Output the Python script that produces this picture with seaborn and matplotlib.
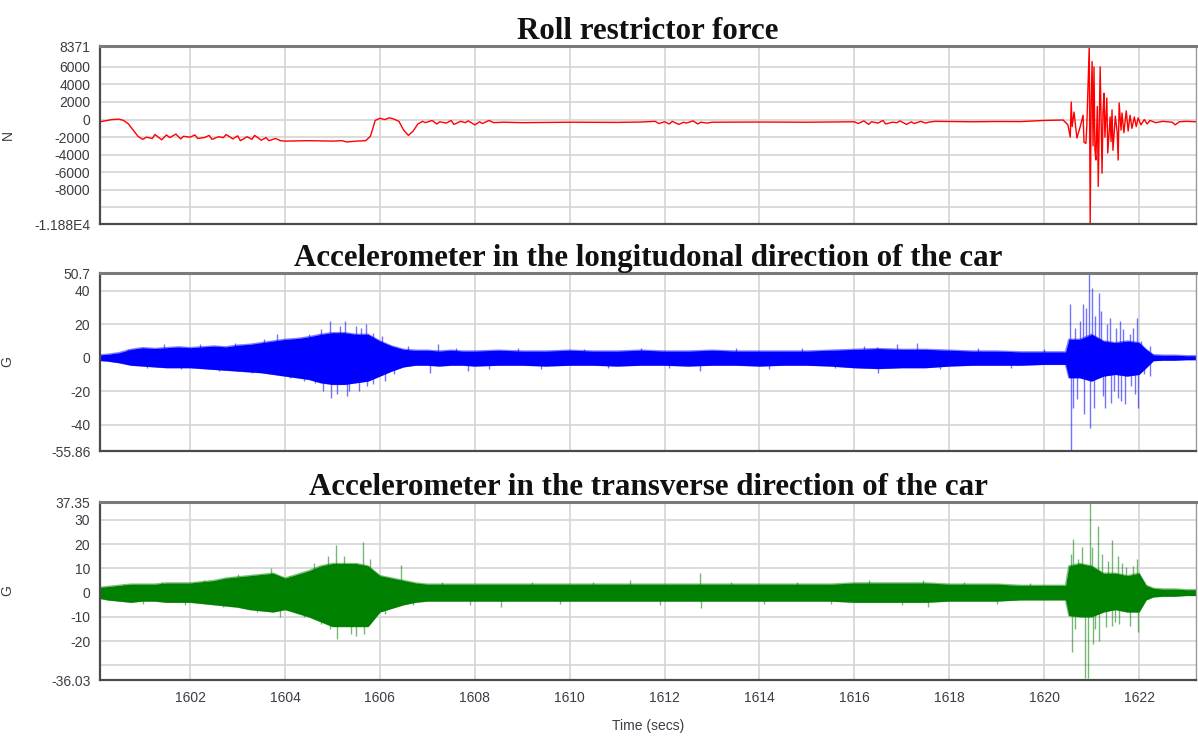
import numpy as np
import matplotlib
matplotlib.use("Agg")
import matplotlib.pyplot as plt
from matplotlib.ticker import MultipleLocator
import seaborn as sns

# ---------------------------------------------------------------- data
# Roll restrictor force (N): sampled trace
force_t = [1600.10, 1600.25, 1600.35, 1600.50, 1600.60, 1600.70, 1600.80, 1600.90,
           1601.00, 1601.08, 1601.20, 1601.26, 1601.40, 1601.50, 1601.57, 1601.70,
           1601.80, 1601.86, 1602.00, 1602.10, 1602.16, 1602.30, 1602.40, 1602.46,
           1602.60, 1602.70, 1602.76, 1602.90, 1603.00, 1603.06, 1603.20, 1603.30,
           1603.36, 1603.50, 1603.60, 1603.66, 1603.80, 1603.90, 1604.00, 1604.50,
           1605.00, 1605.20, 1605.30, 1605.50, 1605.70, 1605.80, 1605.90, 1606.00,
           1606.10, 1606.20, 1606.30, 1606.40, 1606.50, 1606.60, 1606.70, 1606.80,
           1606.90, 1606.96, 1607.10, 1607.20, 1607.26, 1607.40, 1607.50, 1607.56,
           1607.70, 1607.80, 1607.86, 1608.00, 1608.10, 1608.16, 1608.30, 1608.40,
           1608.60, 1609.00, 1610.00, 1611.00, 1611.50, 1611.80, 1611.88, 1612.00,
           1612.10, 1612.16, 1612.30, 1612.40, 1612.46, 1612.60, 1612.70, 1612.76,
           1612.90, 1613.00, 1614.00, 1615.00, 1616.00, 1616.08, 1616.20, 1616.30,
           1616.36, 1616.50, 1616.60, 1616.66, 1616.80, 1616.90, 1616.96, 1617.10,
           1617.20, 1617.26, 1617.40, 1617.50, 1617.56, 1617.70, 1618.50, 1619.00,
           1619.50, 1620.00, 1620.40, 1620.50, 1620.55, 1620.57, 1620.59, 1620.63,
           1620.69, 1620.76, 1620.82, 1620.84, 1620.88, 1620.90, 1620.95, 1620.97,
           1620.99, 1621.01, 1621.03, 1621.05, 1621.07, 1621.09, 1621.12, 1621.14,
           1621.18, 1621.22, 1621.24, 1621.26, 1621.28, 1621.32, 1621.34, 1621.39,
           1621.41, 1621.43, 1621.45, 1621.50, 1621.54, 1621.56, 1621.58, 1621.62,
           1621.64, 1621.68, 1621.73, 1621.77, 1621.81, 1621.85, 1621.90, 1621.94,
           1621.98, 1622.04, 1622.11, 1622.17, 1622.23, 1622.35, 1622.50, 1622.70,
           1622.76, 1622.85, 1623.00, 1623.20]
force_v = [-250, -100, 0, 50, -100, -500, -1200, -1900,
           -2250, -2000, -2150, -1700, -2300, -1750, -2050, -1650,
           -2200, -1900, -2000, -1750, -2150, -2050, -1800, -2250,
           -1950, -2050, -1700, -2200, -1850, -2400, -1950, -2250,
           -1800, -2350, -2050, -2400, -2150, -2400, -2450, -2400,
           -2450, -2400, -2550, -2450, -2400, -1900, -100, 150,
           0, 200, 50, -200, -1200, -1800, -1300, -500,
           -200, -350, -100, -500, -250, -400, -100, -550,
           -200, -350, -150, -600, -250, -450, -100, -350,
           -300, -350, -300, -320, -280, -200, -450, -250,
           -500, -200, -550, -300, -400, -150, -500, -300,
           -400, -300, -280, -300, -250, -450, -150, -550,
           -250, -400, -100, -500, -300, -350, -150, -550,
           -250, -450, -200, -400, -300, -200, -250, -220,
           -230, -100, -50, -600, -2000, 2000, -800, 850,
           -2100, -800, 500, -2600, -2700, -500, 8371, -11880,
           2000, 6600, -3000, 6000, -3450, -4600, 1500, -7600,
           6000, -6100, 800, 3000, -2000, 2450, -3800, 300,
           -2500, 1100, -3500, 400, -1500, -4600, 1900, -1200,
           750, -1500, 1000, -1300, 500, -1000, 300, -800,
           200, -600, 0, -500, -100, -350, -200, -300,
           -600, -250, -200, -250]

# Accelerometer envelopes (upper / lower edge of the vibration band)
long_env_t = [1600.00, 1600.25, 1600.50, 1600.75, 1601.00, 1601.25, 1601.50, 1601.75,
              1602.00, 1602.25, 1602.50, 1602.75, 1603.00, 1603.25, 1603.50, 1603.75,
              1604.00, 1604.25, 1604.50, 1604.75, 1605.00, 1605.25, 1605.50, 1605.75,
              1606.00, 1606.25, 1606.50, 1606.75, 1607.00, 1607.25, 1607.50, 1607.75,
              1608.00, 1608.50, 1609.00, 1609.50, 1610.00, 1610.50, 1611.00, 1611.50,
              1612.00, 1612.50, 1613.00, 1613.50, 1614.00, 1614.50, 1615.00, 1615.50,
              1616.00, 1616.50, 1617.00, 1617.50, 1618.00, 1618.50, 1619.00, 1619.50,
              1620.00, 1620.45, 1620.52, 1620.75, 1621.00, 1621.25, 1621.50, 1621.75,
              1622.00, 1622.15, 1622.30, 1622.50, 1622.75, 1623.00, 1623.25]
long_hi = [1.5, 2, 3, 5, 6, 5.5, 6, 6.5,
           6, 6.5, 7, 6.5, 7.5, 8, 9, 10,
           11, 11.5, 12.5, 14, 15, 15, 14, 14,
           10, 7, 5, 4.5, 4.5, 4, 4.5, 4,
           4, 4.5, 4, 4, 4.5, 4, 4, 4.5,
           4, 4, 4.5, 4, 4, 4, 4, 4.5,
           5, 5.5, 5, 5, 4.5, 4, 4, 3.5,
           3.5, 3.5, 11, 11, 14, 10, 9, 10,
           9, 5, 1.8, 1.5, 1.5, 1.2, 1.2]
long_lo = [-1.5, -2, -3, -4.5, -5, -5.5, -6, -6,
           -6, -6.5, -7, -7.5, -8, -8.5, -9, -10,
           -11, -12, -13, -15, -16, -16, -15, -14,
           -11, -8, -5.5, -4.5, -4.5, -5, -4.5, -4.5,
           -5, -4.5, -4.5, -5, -4.5, -4.5, -5, -4.5,
           -4.5, -5, -4.5, -4.5, -5, -4.5, -4.5, -5,
           -6, -6.5, -6, -6, -5, -4.5, -4.5, -4.5,
           -4, -4, -12, -12, -14, -11, -10, -11,
           -10, -6, -1.8, -1.5, -1.5, -1.2, -1.2]
long_spike_t = [1600.70, 1601.10, 1601.45, 1601.80, 1602.20, 1602.60, 1602.95, 1603.30,
                1603.55, 1603.83, 1604.10, 1604.40, 1604.50, 1604.63, 1604.75, 1604.80,
                1604.95, 1604.97, 1605.10, 1605.15, 1605.27, 1605.30, 1605.35, 1605.50,
                1605.55, 1605.60, 1605.70, 1605.72, 1605.85, 1605.86, 1606.05, 1606.10,
                1606.30, 1606.60, 1607.06, 1607.23, 1607.60, 1607.86, 1608.30, 1608.90,
                1609.40, 1610.30, 1610.80, 1611.50, 1612.10, 1612.75, 1613.50, 1614.20,
                1614.90, 1615.60, 1616.20, 1616.48, 1616.50, 1616.90, 1617.32, 1617.80,
                1618.60, 1619.30, 1620.00,
                1620.55, 1620.56, 1620.60, 1620.65, 1620.70, 1620.75, 1620.82, 1620.83,
                1620.88, 1620.95, 1620.97, 1621.01, 1621.05, 1621.08, 1621.16, 1621.20,
                1621.24, 1621.28, 1621.33, 1621.39, 1621.40, 1621.47, 1621.52, 1621.55,
                1621.60, 1621.61, 1621.66, 1621.70, 1621.81, 1621.82, 1621.88, 1621.92,
                1621.96, 1621.97, 1622.05, 1622.10, 1622.23, 1622.24]
long_spike_v = [5, -6, 8, -7, 8, -8, 9, -9,
                11, 14, -12, -14, 14, -15, 17, -20,
                22, -24, -22, 19, 22, -23, -20, 19,
                -20, 18, 20, -17, 15, -16, 13, -14,
                -10, 7, -9, 8, 6, -8, -6.5, 6,
                -6.5, 5.5, -6, 6, -6, -8, 6, -6.5,
                6, -6, 7, 6.5, -9, 8, 9, -7,
                6, -6, 5,
                32, -55.86, -30, 18, -25, 22, 32, -34,
                30, 50.7, -42, 42, -30, 25, 39, 28,
                -23, -30, 20, 24, -27, -20, 18, -24,
                22, -26, 17, -28, 14, -17, 18, -22,
                24, -30, 10, -10, 7, -11]

trans_env_t = long_env_t
trans_hi = [2, 2.5, 3, 3.5, 3.5, 3.5, 4, 4,
            4, 4.5, 5, 6, 6.5, 7, 7.5, 8,
            6, 7.5, 9, 11, 12, 12, 12, 11,
            7, 6, 5, 4, 3.5, 3.5, 3.5, 3.5,
            3.5, 3.5, 3.5, 3.5, 3.5, 3.5, 3.5, 3.5,
            3.5, 3.5, 3.5, 3.5, 3.5, 3.5, 3.5, 3.5,
            4, 4, 4, 4, 3.5, 3.5, 3.5, 3,
            3, 3, 11, 12, 11, 8, 8, 7,
            8, 3, 1.8, 1.5, 1.5, 1.2, 1.2]
trans_lo = [-2, -3, -3.5, -4, -3.5, -3.5, -4, -4,
            -4, -4.5, -5, -5.5, -6, -7, -7.5, -8,
            -7, -8.5, -10, -12, -14, -14, -14, -14,
            -8, -6.5, -5, -4, -3.5, -3.5, -3.5, -3.5,
            -3.5, -3.5, -3.5, -3.5, -3.5, -3.5, -3.5, -3.5,
            -3.5, -3.5, -3.5, -3.5, -3.5, -3.5, -3.5, -3.5,
            -4, -4, -4, -4, -3.5, -3.5, -3.5, -3,
            -3, -3, -9.5, -10, -10, -8, -7, -8,
            -8, -3, -1.8, -1.5, -1.5, -1.2, -1.2]
trans_spike_t = [1600.60, 1601.00, 1601.40, 1601.90, 1602.30, 1602.70, 1603.00, 1603.40,
                 1603.70, 1603.90, 1604.10, 1604.40, 1604.60, 1604.75, 1604.90, 1604.95,
                 1605.07, 1605.10, 1605.25, 1605.40, 1605.50, 1605.65, 1605.67, 1605.80,
                 1606.10, 1606.45, 1606.70, 1607.30, 1607.90, 1608.55, 1609.20, 1609.80,
                 1610.50, 1611.27, 1611.90, 1612.75, 1612.76, 1613.40, 1614.10, 1614.80,
                 1615.50, 1616.30, 1617.00, 1617.44, 1617.56, 1618.30, 1619.00, 1619.70,
                 1620.57, 1620.58, 1620.61, 1620.66, 1620.72, 1620.80, 1620.86, 1620.93,
                 1620.97, 1621.01, 1621.02, 1621.07, 1621.14, 1621.15, 1621.22, 1621.30,
                 1621.35, 1621.43, 1621.44, 1621.50, 1621.56, 1621.57, 1621.65, 1621.73,
                 1621.81, 1621.88, 1621.96, 1621.97, 1622.08]
trans_spike_v = [3.5, -4.5, 4.5, -5, 5, -6, 7.5, -8,
                 10, -10, 7, -10, 12, -13, 15, -15,
                 19.5, -19, 15, -17, -18, 21, -17, 14,
                 -9, 11.5, -5, 4.5, -5, -6, 4.5, -4.5,
                 4.5, 5, -5, 8, -6.5, 4.5, -4.5, 4.5,
                 -4.5, 5, -5, 5, -6, 4.5, -4.5, 4,
                 16, -24.6, 22, -15, 14, 19, -35, -35,
                 37.35, 18.6, -21, -15, 27.6, -20, 16, -14,
                 13, 21.5, -13.6, -12, 15, -13, 12, 10.5,
                 -13.6, 11, 14, -16.4, 4]

# Axis limits and tick labels
time_range = (1600.1, 1623.2)
time_ticks = [1602, 1604, 1606, 1608, 1610, 1612, 1614, 1616, 1618, 1620, 1622]
force_range = (-11880, 8371)
force_ticks = [-11880, -10000, -8000, -6000, -4000, -2000, 0, 2000, 4000, 6000, 8371]
force_labels = ["-1.188E4", "", "-8000", "-6000", "-4000", "-2000", "0", "2000",
                "4000", "6000", "8371"]
long_range = (-55.86, 50.7)
long_ticks = [-55.86, -40, -20, 0, 20, 40, 50.7]
long_labels = ["-55.86", "-40", "-20", "0", "20", "40", "50.7"]
trans_range = (-36.03, 37.35)
trans_ticks = [-36.03, -30, -20, -10, 0, 10, 20, 30, 37.35]
trans_labels = ["-36.03", "", "-20", "-10", "0", "10", "20", "30", "37.35"]

titles = ["Roll restrictor force",
          "Accelerometer in the longitudonal direction of the car",
          "Accelerometer in the transverse direction of the car"]
units = ["N", "G", "G"]

# ---------------------------------------------------------------- figure
sns.set_theme(style="white")
plt.rcParams["font.family"] = ["Liberation Sans", "DejaVu Sans"]

fig = plt.figure(figsize=(11.98, 7.38), dpi=100)
L, W, H = 100 / 1198, 1096 / 1198, 178 / 738
bottoms = [1 - 224 / 738, 1 - 451 / 738, 1 - 680 / 738]
axes = [fig.add_axes([L, b, W, H]) for b in bottoms]

grid_c = "#d4d4d4"
tick_c = "#3c3c46"


def style_axis(ax, yr, yt, yl, title, unit, minor_y, show_x):
    ax.set_xlim(*time_range)
    ax.set_ylim(*yr)
    ax.set_xticks(time_ticks)
    ax.xaxis.set_minor_locator(MultipleLocator(0.5))
    ax.set_yticks(yt)
    ax.set_yticklabels(yl)
    ax.yaxis.set_minor_locator(MultipleLocator(minor_y))
    if not show_x:
        ax.set_xticklabels([])
    ax.grid(True, which="major", color=grid_c, lw=1.2)
    ax.tick_params(axis="both", which="both", direction="in", colors="#505050",
                   labelcolor=tick_c, labelsize=10)
    ax.tick_params(axis="x", which="major", length=6, width=1.2, pad=8)
    ax.tick_params(axis="x", which="minor", length=4, width=1.0)
    ax.tick_params(axis="y", which="major", length=5, width=1.0, pad=7)
    ax.tick_params(axis="y", which="minor", length=3, width=0.8)
    for side in ["left", "bottom"]:
        ax.spines[side].set_color("#4a4a4a")
        ax.spines[side].set_linewidth(1.6)
    ax.spines["top"].set_color("#7a7a7a")
    ax.spines["top"].set_linewidth(2.2)
    ax.spines["right"].set_color("#9a9a9a")
    ax.spines["right"].set_linewidth(1.0)
    ax.set_title(title, family=["Liberation Serif", "DejaVu Serif"], weight="bold",
                 fontsize=22.3, color="#111111", pad=5)
    ax.set_ylabel(unit, fontsize=10, color=tick_c)
    ax.yaxis.set_label_coords(-0.078, 0.5)
    ax.set_xlabel("")


# Roll restrictor force
ax = axes[0]
sns.lineplot(x=force_t, y=force_v, ax=ax, color="#ff0000", lw=1.0,
             estimator=None, sort=False)
style_axis(ax, force_range, force_ticks, force_labels, titles[0], units[0], 1000, False)


def draw_vibration(ax, t, hi, lo, spike_t, spike_v, color):
    ax.fill_between(t, lo, hi, color=color, lw=0)
    sns.lineplot(x=t, y=hi, ax=ax, color=color, lw=1.0, alpha=0.5, estimator=None)
    sns.lineplot(x=t, y=lo, ax=ax, color=color, lw=1.0, alpha=0.5, estimator=None)
    ax.vlines(spike_t, 0, spike_v, color=color, lw=1.0, alpha=0.55)


draw_vibration(axes[1], long_env_t, long_hi, long_lo, long_spike_t, long_spike_v, "#0000ff")
style_axis(axes[1], long_range, long_ticks, long_labels, titles[1], units[1], 5, False)

draw_vibration(axes[2], trans_env_t, trans_hi, trans_lo, trans_spike_t, trans_spike_v, "#008000")
style_axis(axes[2], trans_range, trans_ticks, trans_labels, titles[2], units[2], 5, True)
axes[2].set_xlabel("Time (secs)", fontsize=10, color=tick_c, labelpad=10)

fig.savefig("out.png", dpi=100)
